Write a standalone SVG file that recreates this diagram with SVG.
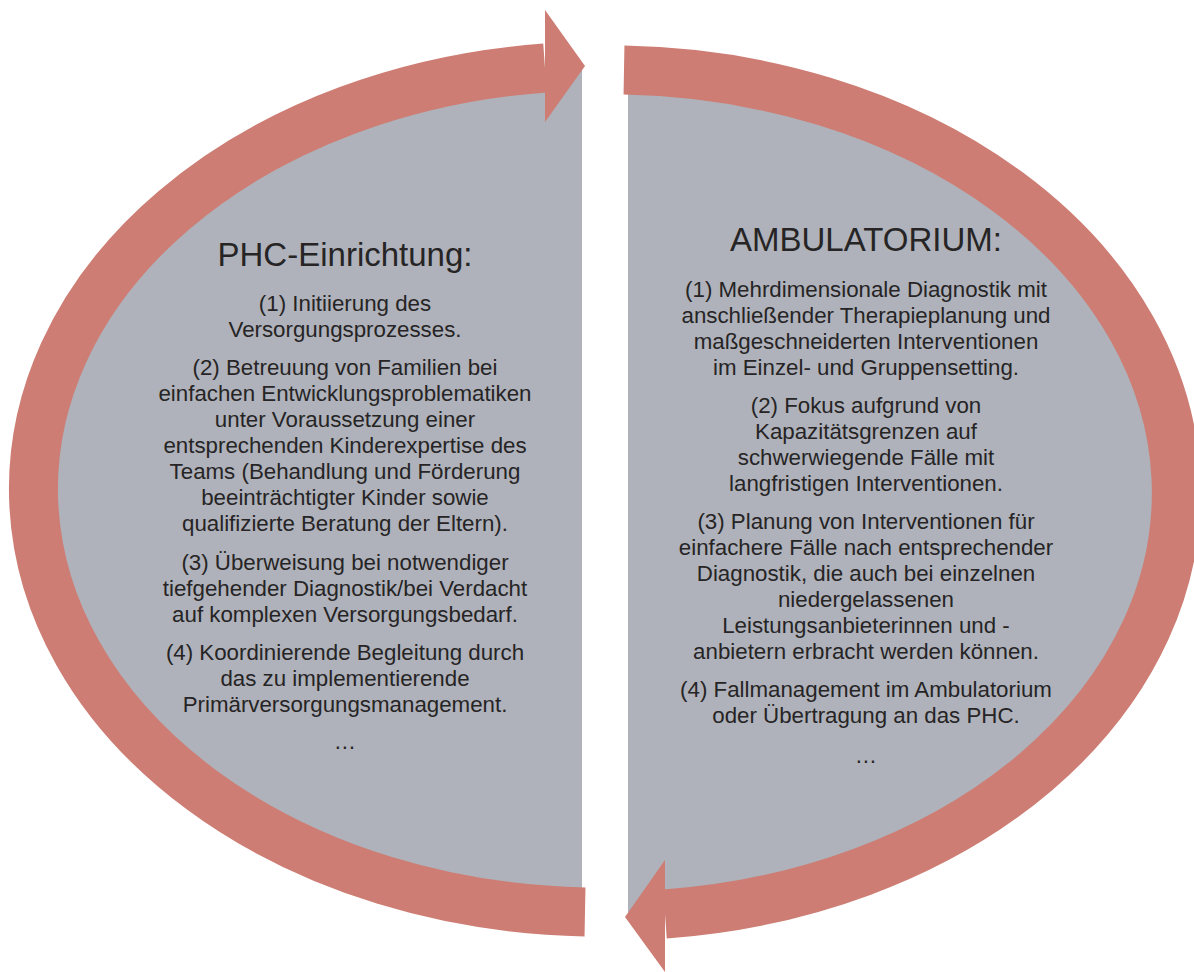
<svg xmlns="http://www.w3.org/2000/svg" width="1194" height="972" viewBox="0 0 1194 972">
<style>
.grey{fill:#AFB2BA}
.band{fill:none;stroke:#CD7D73;stroke-width:49}
.head{fill:#CD7D73}
text{font-family:"Liberation Sans",Arial,sans-serif;fill:#262425;text-anchor:middle}
.title{font-size:33px}
.body{font-size:22.3px}
</style>
<g id="phc-node">
<path class="grey" d="M582 66.2 A566 423 0 0 0 582 911.8 Z"/>
</g>
<g id="amb-node">
<path class="grey" d="M628 70.2 A566 423 0 0 1 628 915.8 Z"/>
</g>
<g id="connectors">
<path class="band" d="M585 911.9 A566 423 0 0 1 545 68"/>
<polygon class="head" points="545,10 585,66 545,122"/>
<path class="band" d="M624 70.1 A566 423 0 0 1 665 914"/>
<polygon class="head" points="665,860 625,917 665,972"/>
</g>
<g id="phc-text">
<text class="title" x="345" y="266">PHC-Einrichtung:</text>
<text class="body" x="345" y="311">(1) Initiierung des</text>
<text class="body" x="345" y="337">Versorgungsprozesses.</text>
<text class="body" x="345" y="375">(2) Betreuung von Familien bei</text>
<text class="body" x="345" y="401">einfachen Entwicklungsproblematiken</text>
<text class="body" x="345" y="427">unter Voraussetzung einer</text>
<text class="body" x="345" y="453">entsprechenden Kinderexpertise des</text>
<text class="body" x="345" y="479">Teams (Behandlung und Förderung</text>
<text class="body" x="345" y="505">beeinträchtigter Kinder sowie</text>
<text class="body" x="345" y="531">qualifizierte Beratung der Eltern).</text>
<text class="body" x="345" y="570">(3) Überweisung bei notwendiger</text>
<text class="body" x="345" y="596">tiefgehender Diagnostik/bei Verdacht</text>
<text class="body" x="345" y="622">auf komplexen Versorgungsbedarf.</text>
<text class="body" x="345" y="660">(4) Koordinierende Begleitung durch</text>
<text class="body" x="345" y="686">das zu implementierende</text>
<text class="body" x="345" y="712">Primärversorgungsmanagement.</text>
<text class="body" x="345" y="749">…</text>
</g>
<g id="amb-text">
<text class="title" x="866" y="251">AMBULATORIUM:</text>
<text class="body" x="866" y="297">(1) Mehrdimensionale Diagnostik mit</text>
<text class="body" x="866" y="323">anschließender Therapieplanung und</text>
<text class="body" x="866" y="349">maßgeschneiderten Interventionen</text>
<text class="body" x="866" y="375">im Einzel- und Gruppensetting.</text>
<text class="body" x="866" y="413">(2) Fokus aufgrund von</text>
<text class="body" x="866" y="439">Kapazitätsgrenzen auf</text>
<text class="body" x="866" y="465">schwerwiegende Fälle mit</text>
<text class="body" x="866" y="491">langfristigen Interventionen.</text>
<text class="body" x="866" y="529">(3) Planung von Interventionen für</text>
<text class="body" x="866" y="555">einfachere Fälle nach entsprechender</text>
<text class="body" x="866" y="581">Diagnostik, die auch bei einzelnen</text>
<text class="body" x="866" y="607">niedergelassenen</text>
<text class="body" x="866" y="633">Leistungsanbieterinnen und -</text>
<text class="body" x="866" y="659">anbietern erbracht werden können.</text>
<text class="body" x="866" y="697">(4) Fallmanagement im Ambulatorium</text>
<text class="body" x="866" y="723">oder Übertragung an das PHC.</text>
<text class="body" x="866" y="763">…</text>
</g>
</svg>
